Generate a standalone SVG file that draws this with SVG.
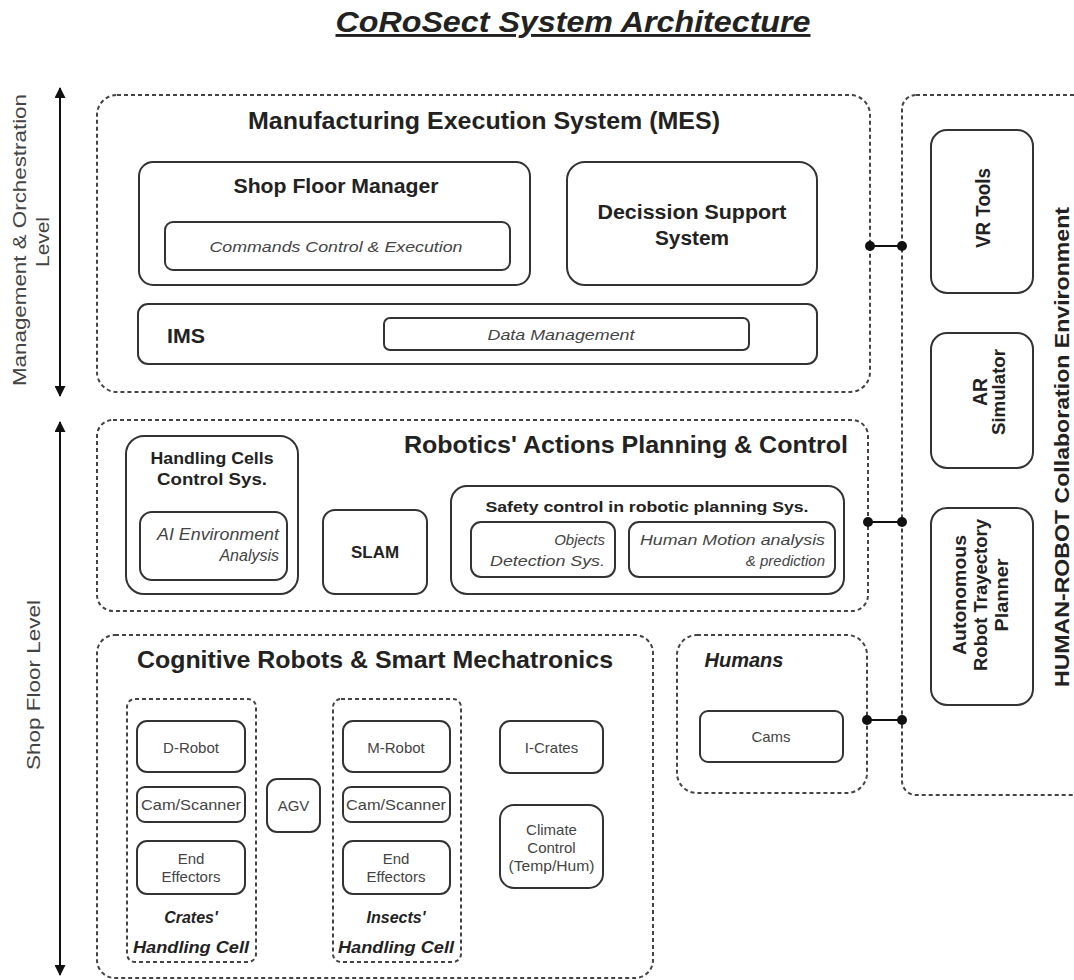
<svg xmlns="http://www.w3.org/2000/svg" width="1074" height="980" viewBox="0 0 1074 980">
<defs>
<marker id="ah" viewBox="0 0 10 10" refX="9" refY="5" markerWidth="6" markerHeight="5.5" orient="auto-start-reverse" markerUnits="strokeWidth">
<path d="M0,0 L10,5 L0,10 z" fill="#111"/>
</marker>
<style>
.dash{fill:none;stroke:#444;stroke-width:2;stroke-dasharray:4 3}
.box{fill:#fff;stroke:#333;stroke-width:2}
.t{font-family:"Liberation Sans",Arial,sans-serif;fill:#222}
.b{font-weight:bold}
.i{font-style:italic}
.lt{fill:#444}
.axis{stroke:#111;stroke-width:2;fill:none}
.conn{stroke:#111;stroke-width:2}
.dot{fill:#111}
</style>
</defs>
<rect width="1074" height="980" fill="#fff"/>

<text class="t b i" x="573" y="32" font-size="29" text-anchor="middle" text-decoration="underline" textLength="475" lengthAdjust="spacingAndGlyphs">CoRoSect System Architecture</text>

<g id="axes">
<line class="axis" x1="60" y1="88" x2="60" y2="396" marker-start="url(#ah)" marker-end="url(#ah)"/>
<line class="axis" x1="60" y1="422" x2="60" y2="975" marker-start="url(#ah)" marker-end="url(#ah)"/>
<text class="t lt" font-size="19" text-anchor="middle" transform="translate(26,240) rotate(-90)" textLength="292" lengthAdjust="spacingAndGlyphs">Management &amp; Orchestration</text>
<text class="t lt" font-size="19" text-anchor="middle" transform="translate(49,242) rotate(-90)" textLength="50" lengthAdjust="spacingAndGlyphs">Level</text>
<text class="t lt" font-size="19" text-anchor="middle" transform="translate(40,685) rotate(-90)" textLength="170" lengthAdjust="spacingAndGlyphs">Shop Floor Level</text>
</g>

<g id="mes">
<rect class="dash" x="97" y="95" width="773" height="297" rx="20"/>
<text class="t b" x="484" y="129" font-size="23" text-anchor="middle" textLength="472" lengthAdjust="spacingAndGlyphs">Manufacturing Execution System (MES)</text>
</g>
<g id="shop-floor-manager">
<rect class="box" x="139" y="162" width="391" height="123" rx="14"/>
<text class="t b" x="336" y="193" font-size="20" text-anchor="middle" textLength="205" lengthAdjust="spacingAndGlyphs">Shop Floor Manager</text>
</g>
<g id="commands">
<rect class="box" x="165" y="222" width="345" height="48" rx="8"/>
<text class="t i lt" x="336" y="252" font-size="15" text-anchor="middle" textLength="253" lengthAdjust="spacingAndGlyphs">Commands Control &amp; Execution</text>
</g>
<g id="dss">
<rect class="box" x="567" y="162" width="250" height="123" rx="18"/>
<text class="t b" x="692" y="219" font-size="20" text-anchor="middle" textLength="189" lengthAdjust="spacingAndGlyphs">Decission Support</text>
<text class="t b" x="692" y="245" font-size="20" text-anchor="middle" textLength="74" lengthAdjust="spacingAndGlyphs">System</text>
</g>
<g id="ims">
<rect class="box" x="138" y="304" width="679" height="60" rx="10"/>
<text class="t b" x="167" y="343" font-size="20" textLength="38" lengthAdjust="spacingAndGlyphs">IMS</text>
</g>
<g id="data-management">
<rect class="box" x="384" y="318" width="365" height="32" rx="6"/>
<text class="t i lt" x="561" y="340" font-size="15" text-anchor="middle" textLength="147" lengthAdjust="spacingAndGlyphs">Data Management</text>
</g>

<g id="hrc">
<rect class="dash" x="902" y="95" width="200" height="700" rx="14"/>
<text class="t b" font-size="20" text-anchor="middle" transform="translate(1069,447) rotate(-90)" textLength="480" lengthAdjust="spacingAndGlyphs">HUMAN-ROBOT Collaboration Environment</text>
</g>
<g id="vr-tools">
<rect class="box" x="931" y="130" width="102" height="163" rx="16"/>
<text class="t b" font-size="21" text-anchor="middle" transform="translate(990,208) rotate(-90)" textLength="80" lengthAdjust="spacingAndGlyphs">VR Tools</text>
</g>
<g id="ar-simulator">
<rect class="box" x="931" y="333" width="102" height="135" rx="16"/>
<text class="t b" font-size="21" text-anchor="middle" transform="translate(987,392) rotate(-90)" textLength="28" lengthAdjust="spacingAndGlyphs">AR</text>
<text class="t b" font-size="19" text-anchor="middle" transform="translate(1005,392) rotate(-90)" textLength="86" lengthAdjust="spacingAndGlyphs">Simulator</text>
</g>
<g id="trajectory-planner">
<rect class="box" x="931" y="508" width="102" height="197" rx="16"/>
<text class="t b" font-size="19" text-anchor="middle" transform="translate(966,595) rotate(-90)" textLength="120" lengthAdjust="spacingAndGlyphs">Autonomous</text>
<text class="t b" font-size="19" text-anchor="middle" transform="translate(987,595) rotate(-90)" textLength="152" lengthAdjust="spacingAndGlyphs">Robot Trayectory</text>
<text class="t b" font-size="19" text-anchor="middle" transform="translate(1008,595) rotate(-90)" textLength="73" lengthAdjust="spacingAndGlyphs">Planner</text>
</g>

<g id="robotics">
<rect class="dash" x="97" y="420" width="771" height="191" rx="16"/>
<text class="t b" x="626" y="453" font-size="23" text-anchor="middle" textLength="444" lengthAdjust="spacingAndGlyphs">Robotics' Actions Planning &amp; Control</text>
</g>
<g id="handling-cells-control">
<rect class="box" x="126" y="436" width="172" height="158" rx="18"/>
<text class="t b" x="212" y="464" font-size="16" text-anchor="middle" textLength="123" lengthAdjust="spacingAndGlyphs">Handling Cells</text>
<text class="t b" x="212" y="485" font-size="16" text-anchor="middle" textLength="110" lengthAdjust="spacingAndGlyphs">Control Sys.</text>
</g>
<g id="ai-environment">
<rect class="box" x="140" y="512" width="147" height="68" rx="12"/>
<text class="t i lt" x="279" y="540" font-size="16" text-anchor="end" textLength="122" lengthAdjust="spacingAndGlyphs">AI Environment</text>
<text class="t i lt" x="279" y="561" font-size="16" text-anchor="end">Analysis</text>
</g>
<g id="slam">
<rect class="box" x="323" y="510" width="104" height="84" rx="12"/>
<text class="t b" x="375" y="558" font-size="16" text-anchor="middle" textLength="48" lengthAdjust="spacingAndGlyphs">SLAM</text>
</g>
<g id="safety-control">
<rect class="box" x="451" y="486" width="393" height="108" rx="16"/>
<text class="t b" x="647" y="512" font-size="15" text-anchor="middle" textLength="323" lengthAdjust="spacingAndGlyphs">Safety control in robotic planning Sys.</text>
</g>
<g id="objects-detection">
<rect class="box" x="471" y="522" width="144" height="55" rx="10"/>
<text class="t i lt" x="605" y="545" font-size="15" text-anchor="end">Objects</text>
<text class="t i lt" x="605" y="566" font-size="15" text-anchor="end" textLength="115" lengthAdjust="spacingAndGlyphs">Detection Sys.</text>
</g>
<g id="human-motion">
<rect class="box" x="629" y="522" width="206" height="55" rx="10"/>
<text class="t i lt" x="825" y="545" font-size="15" text-anchor="end" textLength="185" lengthAdjust="spacingAndGlyphs">Human Motion analysis</text>
<text class="t i lt" x="825" y="566" font-size="15" text-anchor="end">&amp; prediction</text>
</g>

<g id="cognitive">
<rect class="dash" x="97" y="635" width="556" height="343" rx="18"/>
<text class="t b" x="375" y="668" font-size="23" text-anchor="middle" textLength="476" lengthAdjust="spacingAndGlyphs">Cognitive Robots &amp; Smart Mechatronics</text>
</g>
<g id="crates-cell">
<rect class="dash" x="127" y="699" width="129" height="263" rx="8"/>
<text class="t b i" x="191" y="923" font-size="16" text-anchor="middle">Crates'</text>
<text class="t b i" x="191" y="953" font-size="16" text-anchor="middle" textLength="116" lengthAdjust="spacingAndGlyphs">Handling Cell</text>
</g>
<g id="d-robot">
<rect class="box" x="137" y="721" width="108" height="51" rx="10"/>
<text class="t lt" x="191" y="753" font-size="15" text-anchor="middle">D-Robot</text>
</g>
<g id="cam-scanner-1">
<rect class="box" x="137" y="787" width="108" height="35" rx="8"/>
<text class="t lt" x="191" y="810" font-size="15" text-anchor="middle" textLength="100" lengthAdjust="spacingAndGlyphs">Cam/Scanner</text>
</g>
<g id="end-effectors-1">
<rect class="box" x="137" y="841" width="108" height="53" rx="10"/>
<text class="t lt" x="191" y="864" font-size="15" text-anchor="middle">End</text>
<text class="t lt" x="191" y="882" font-size="15" text-anchor="middle">Effectors</text>
</g>
<g id="agv">
<rect class="box" x="267" y="779" width="53" height="53" rx="10"/>
<text class="t lt" x="293.5" y="811" font-size="15" text-anchor="middle">AGV</text>
</g>
<g id="insects-cell">
<rect class="dash" x="333" y="699" width="128" height="263" rx="8"/>
<text class="t b i" x="396" y="923" font-size="16" text-anchor="middle">Insects'</text>
<text class="t b i" x="396" y="953" font-size="16" text-anchor="middle" textLength="116" lengthAdjust="spacingAndGlyphs">Handling Cell</text>
</g>
<g id="m-robot">
<rect class="box" x="343" y="721" width="107" height="51" rx="10"/>
<text class="t lt" x="396" y="753" font-size="15" text-anchor="middle">M-Robot</text>
</g>
<g id="cam-scanner-2">
<rect class="box" x="343" y="787" width="107" height="35" rx="8"/>
<text class="t lt" x="396" y="810" font-size="15" text-anchor="middle" textLength="100" lengthAdjust="spacingAndGlyphs">Cam/Scanner</text>
</g>
<g id="end-effectors-2">
<rect class="box" x="343" y="841" width="107" height="53" rx="10"/>
<text class="t lt" x="396" y="864" font-size="15" text-anchor="middle">End</text>
<text class="t lt" x="396" y="882" font-size="15" text-anchor="middle">Effectors</text>
</g>
<g id="i-crates">
<rect class="box" x="500" y="721" width="103" height="52" rx="10"/>
<text class="t lt" x="551.5" y="753" font-size="15" text-anchor="middle">I-Crates</text>
</g>
<g id="climate-control">
<rect class="box" x="500" y="805" width="103" height="83" rx="14"/>
<text class="t lt" x="551.5" y="835" font-size="15" text-anchor="middle">Climate</text>
<text class="t lt" x="551.5" y="853" font-size="15" text-anchor="middle">Control</text>
<text class="t lt" x="551.5" y="871" font-size="15" text-anchor="middle" textLength="86" lengthAdjust="spacingAndGlyphs">(Temp/Hum)</text>
</g>

<g id="humans">
<rect class="dash" x="677" y="635" width="190" height="158" rx="20"/>
<text class="t b i" x="744" y="667" font-size="20" text-anchor="middle">Humans</text>
</g>
<g id="cams">
<rect class="box" x="700" y="711" width="143" height="51" rx="8"/>
<text class="t lt" x="771" y="742" font-size="15" text-anchor="middle">Cams</text>
</g>

<g id="connectors">
<line class="conn" x1="870" y1="246" x2="902" y2="246"/>
<circle class="dot" cx="870" cy="246" r="5"/>
<circle class="dot" cx="902" cy="246" r="5"/>
<line class="conn" x1="868" y1="522" x2="902" y2="522"/>
<circle class="dot" cx="868" cy="522" r="5"/>
<circle class="dot" cx="902" cy="522" r="5"/>
<line class="conn" x1="867" y1="720" x2="902" y2="720"/>
<circle class="dot" cx="867" cy="720" r="5"/>
<circle class="dot" cx="902" cy="720" r="5"/>
</g>
</svg>
